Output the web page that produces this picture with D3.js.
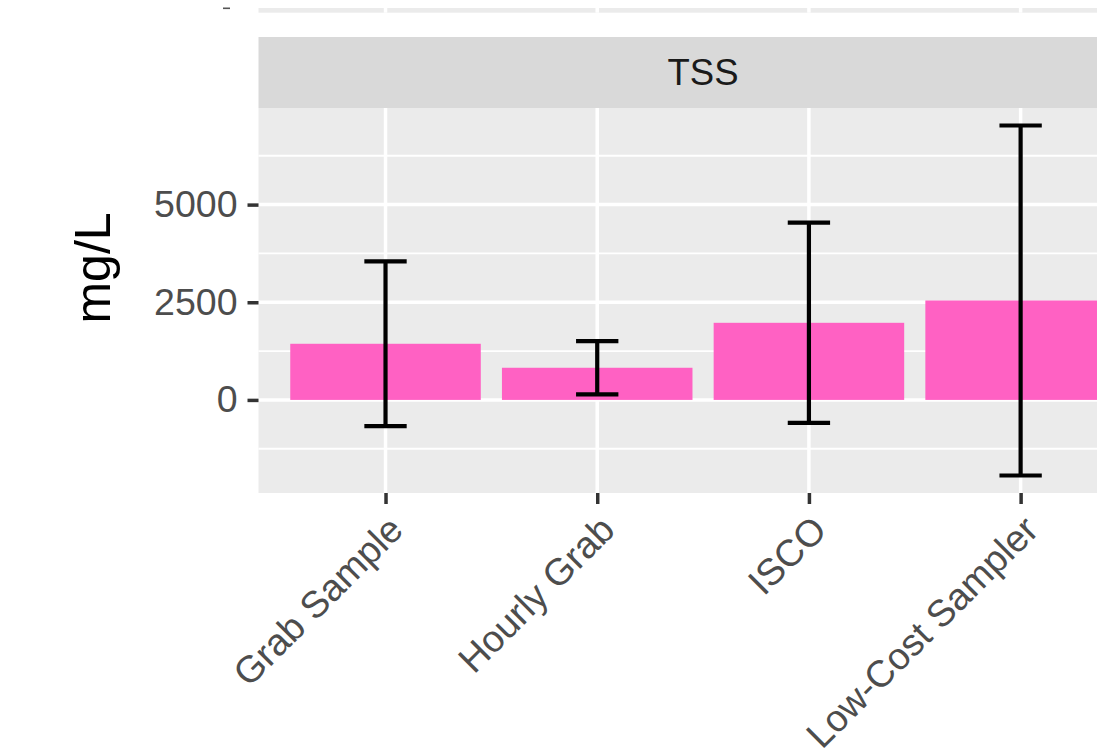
<!DOCTYPE html>
<html>
<head>
<meta charset="utf-8">
<script src="https://cdn.jsdelivr.net/npm/d3@7"></script>
<style>
  html, body { margin: 0; padding: 0; background: #fff; }
  svg { display: block; font-family: "Liberation Sans", Arial, sans-serif; }
</style>
</head>
<body>
<svg id="chart" width="1097" height="748"></svg>
<script>
// ---- data ----
const categories = ["Grab Sample", "Hourly Grab", "ISCO", "Low-Cost Sampler"];
const means = [1437, 823, 1974, 2545];
const lowers = [-670, 143, -590, -1935];
const uppers = [3545, 1503, 4540, 7025];
const yTicks = [0, 2500, 5000];
const yMinor = [-1250, 1250, 3750, 6250];
const facetLabel = "TSS";
const yTitle = "mg/L";

// ---- layout ----
const W = 1097, H = 748;
const panel = { left: 258.5, top: 108, bottom: 493 };
const step = 211.7;
panel.right = panel.left + step * (categories.length - 1 + 1.2);
const fs = 37.5;

const svg = d3.select("#chart");
svg.append("rect").attr("width", W).attr("height", H).attr("fill", "#fff");

const x = d3.scalePoint().domain(categories)
  .range([panel.left, panel.right]).padding(0.6);

const dMin = Math.min(0, d3.min(lowers)), dMax = Math.max(0, d3.max(uppers));
const ext = (dMax - dMin) * 0.05;
const y = d3.scaleLinear().domain([dMin - ext, dMax + ext])
  .range([panel.bottom, panel.top]);

// previous facet panel (bottom sliver visible at the top)
const prev = svg.append("g");
prev.append("rect").attr("x", panel.left).attr("y", 8)
  .attr("width", panel.right - panel.left).attr("height", 4.7).attr("fill", "#EBEBEB");
prev.selectAll("line.v").data(categories).join("line")
  .attr("x1", d => x(d)).attr("x2", d => x(d)).attr("y1", 8).attr("y2", 12.7)
  .attr("stroke", "#fff").attr("stroke-width", 3.5);
prev.append("line").attr("x1", 223).attr("x2", 230).attr("y1", 8.3).attr("y2", 8.3)
  .attr("stroke", "#555").attr("stroke-width", 1.6);

// strip
svg.append("rect").attr("x", panel.left).attr("y", 37)
  .attr("width", panel.right - panel.left).attr("height", panel.top - 37)
  .attr("fill", "#D9D9D9");
svg.append("text").attr("x", (panel.left + panel.right) / 2).attr("y", 72.5)
  .attr("text-anchor", "middle").attr("dominant-baseline", "central")
  .attr("font-size", 36.5).attr("fill", "#1A1A1A").text(facetLabel);

// panel background
svg.append("rect").attr("x", panel.left).attr("y", panel.top)
  .attr("width", panel.right - panel.left).attr("height", panel.bottom - panel.top)
  .attr("fill", "#EBEBEB");

// grid
const grid = svg.append("g");
grid.selectAll("line.minor").data(yMinor).join("line")
  .attr("x1", panel.left).attr("x2", panel.right)
  .attr("y1", d => y(d)).attr("y2", d => y(d))
  .attr("stroke", "#fff").attr("stroke-width", 1.8);
grid.selectAll("line.major").data(yTicks).join("line")
  .attr("x1", panel.left).attr("x2", panel.right)
  .attr("y1", d => y(d)).attr("y2", d => y(d))
  .attr("stroke", "#fff").attr("stroke-width", 3.5);
grid.selectAll("line.vx").data(categories).join("line")
  .attr("x1", d => x(d)).attr("x2", d => x(d))
  .attr("y1", panel.top).attr("y2", panel.bottom)
  .attr("stroke", "#fff").attr("stroke-width", 3.5);

// bars
const barW = step * 0.9;
svg.append("g").selectAll("rect").data(categories).join("rect")
  .attr("x", d => x(d) - barW / 2)
  .attr("width", barW)
  .attr("y", (d, i) => Math.min(y(means[i]), y(0)))
  .attr("height", (d, i) => Math.abs(y(means[i]) - y(0)))
  .attr("fill", "#FF61C3");

// error bars
const capW = step * 0.2;
const eb = svg.append("g").attr("stroke", "#000").attr("stroke-width", 4.2);
categories.forEach((c, i) => {
  const cx = x(c);
  eb.append("line").attr("x1", cx).attr("x2", cx).attr("y1", y(lowers[i])).attr("y2", y(uppers[i]));
  eb.append("line").attr("x1", cx - capW / 2).attr("x2", cx + capW / 2).attr("y1", y(lowers[i])).attr("y2", y(lowers[i]));
  eb.append("line").attr("x1", cx - capW / 2).attr("x2", cx + capW / 2).attr("y1", y(uppers[i])).attr("y2", y(uppers[i]));
});

// y axis
const yAxis = d3.axisLeft(y).tickValues(yTicks).tickSize(11).tickPadding(10)
  .tickFormat(d3.format("d"));
const ya = svg.append("g").attr("transform", `translate(${panel.left},0)`).call(yAxis);
ya.select(".domain").remove();
ya.selectAll(".tick line").attr("stroke", "#333333").attr("stroke-width", 3.5);
ya.selectAll(".tick text").attr("fill", "#4D4D4D").attr("font-size", fs)
  .attr("font-family", "Liberation Sans, Arial, sans-serif");

// x axis
const xAxis = d3.axisBottom(x).tickSize(11).tickPadding(0);
const xa = svg.append("g").attr("transform", `translate(0,${panel.bottom})`).call(xAxis);
xa.select(".domain").remove();
xa.selectAll(".tick line").attr("stroke", "#333333").attr("stroke-width", 3.5);
xa.selectAll(".tick text")
  .attr("fill", "#4D4D4D").attr("font-size", fs)
  .attr("font-family", "Liberation Sans, Arial, sans-serif")
  .attr("text-anchor", "end")
  .attr("y", 0).attr("dy", "0.72em")
  .attr("transform", "translate(0,20) rotate(-45)");

// y title
svg.append("text").attr("transform", "translate(109.5,268) rotate(-90)")
  .attr("text-anchor", "middle").attr("font-size", 50).attr("fill", "#000")
  .text(yTitle);
</script>
</body>
</html>
